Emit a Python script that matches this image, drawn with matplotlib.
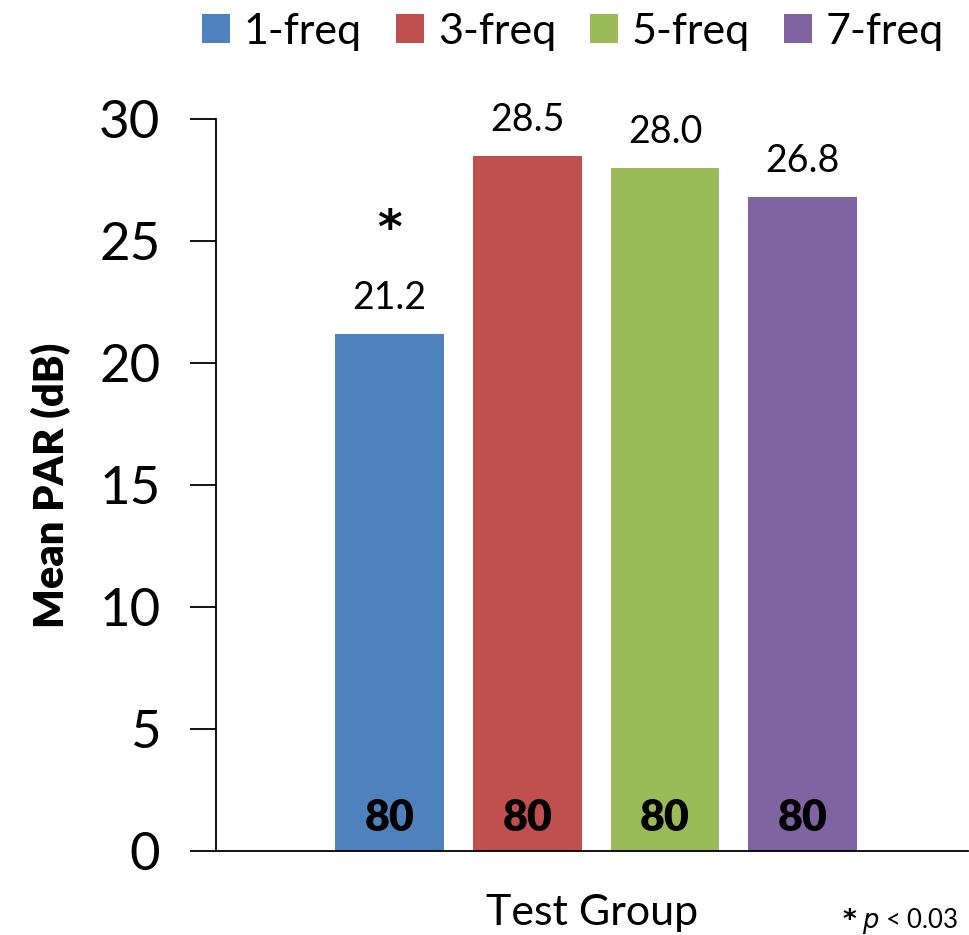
import matplotlib
matplotlib.use("Agg")
import matplotlib.pyplot as plt
from matplotlib.patches import Patch

# Mean PAR per test group
groups = ["1-freq", "3-freq", "5-freq", "7-freq"]
mean_par = [21.2, 28.5, 28.0, 26.8]
n_counts = [80, 80, 80, 80]
colors = ["#4F81BD", "#C0504D", "#9BBB59", "#8064A2"]

plt.rcParams['font.family'] = ['Lato', 'DejaVu Sans']

fig = plt.figure(figsize=(9.7, 9.35), dpi=100)
ax = fig.add_axes([0.2227, 0.0898, 0.7753, 0.7826])

x = list(range(len(groups)))
bars = ax.bar(x, mean_par, width=0.79, color=colors)

# value labels above the bars
for xi, v in zip(x, mean_par):
    ax.annotate(f"{v:.1f}", (xi, v), xytext=(0, 13), textcoords="offset points",
                ha="center", va="bottom", fontsize=27)

# sample sizes at the foot of each bar
for xi, n in zip(x, n_counts):
    ax.text(xi, 1.35, str(n), ha="center", va="center", fontsize=31,
            fontweight="heavy")

# significance marker on the 1-freq group
ax.text(x[0], 25.45, "*", ha="center", va="center", fontsize=34,
        fontweight="heavy", family="DejaVu Sans")

ax.set_xlim(-1.26, 4.2)
ax.set_ylim(0, 30)
ax.set_yticks(range(0, 31, 5))
ax.set_xticks([])
ax.tick_params(axis="y", labelsize=38, length=19, width=1.3, pad=21)
for side in ["top", "right"]:
    ax.spines[side].set_visible(False)
ax.spines["left"].set_linewidth(1.3)
ax.spines["bottom"].set_linewidth(1.3)

ax.set_ylabel("Mean PAR (dB)", fontsize=30, fontweight="heavy", labelpad=20)
ax.set_xlabel("Test Group", fontsize=31, labelpad=31)

handles = [Patch(facecolor=c, label=g) for c, g in zip(colors, groups)]
fig.legend(handles=handles, loc="upper center", bbox_to_anchor=(0.591, 1.028),
           ncol=4, frameon=False, fontsize=31, handlelength=0.63,
           handleheight=0.63, handletextpad=0.33, columnspacing=0.8)

# significance footnote
fig.text(0.988, 0.0075, "$\\it{p}$ < 0.03", ha="right", va="baseline",
         fontsize=18.5)
fig.text(0.869, 0.0075, "*", ha="left", va="baseline", fontsize=19,
         fontweight="heavy", family="DejaVu Sans")

fig.savefig("out.png", dpi=100)
